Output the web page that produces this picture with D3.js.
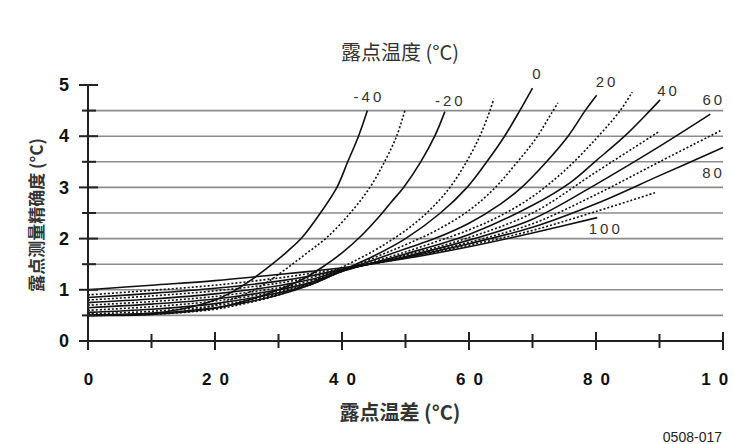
<!DOCTYPE html>
<html><head><meta charset="utf-8">
<script src="https://cdn.jsdelivr.net/npm/d3@7/dist/d3.min.js"></script>
<style>
body{margin:0;background:#fff}
text{font-family:"Liberation Sans",Arial,sans-serif}
.cjk{font-family:"Noto Sans CJK SC","Liberation Sans",sans-serif}
</style>
</head><body>
<svg id="c" width="733" height="444"></svg>
<script>
// ---- data ----
const xMajorTicks = [0, 20, 40, 60, 80, 100];
const xMinorTicks = [10, 30, 50, 70, 90];
const yMajorTicks = [0, 1, 2, 3, 4, 5];
const yMinorTicks = [0.5, 1.5, 2.5, 3.5, 4.5];
const gridLevels = [0.5, 1, 1.5, 2, 2.5, 3, 3.5, 4, 4.5];
const dewPoints = [-40, -30, -20, -10, 0, 10, 20, 30, 40, 50, 60, 70, 80, 90, 100];
const labeledDewPoints = [-40, -20, 0, 20, 40, 60, 80, 100];

const curveM40 = [[0,.5],[10,.54],[15,.63],[20,.8],[23,.98],[26,1.22],[29,1.5],[31.5,1.76],[33.7,2.02],[36.6,2.5],[39.2,3],[40.9,3.5],[42.6,4],[44,4.5]];
const curveM30 = [[0,.5],[10,.53],[15,.58],[20,.7],[25,.93],[28,1.13],[31.3,1.42],[34.5,1.72],[37.6,2.02],[41.3,2.5],[44.4,3],[46.7,3.5],[48.6,4],[49.9,4.5]];
const curveM20 = [[0,.5],[10,.52],[20,.64],[25,.79],[30,1],[34,1.22],[37,1.45],[40,1.72],[43,2.05],[46,2.45],[47.8,2.72],[49.7,3],[52.4,3.5],[54.6,4],[56.2,4.48]];
const curveM10 = [[0,.5],[10,.52],[20,.62],[25,.74],[30,.9],[35,1.14],[40,1.44],[45,1.76],[48,1.99],[51,2.25],[54,2.58],[57,3],[59.6,3.5],[61.7,4],[63.3,4.5],[63.9,4.73]];
const curveP0   = [[0,.51],[10,.54],[20,.65],[30,.9],[35,1.1],[40,1.38],[45,1.66],[50,2],[55.5,2.5],[59.7,3],[62.8,3.5],[65.6,4],[68,4.5],[70,4.94]];
const curveP10  = [[0,.53],[10,.58],[20,.69],[30,.92],[35,1.1],[40,1.37],[50,1.88],[55,2.17],[60,2.55],[64,2.98],[67.3,3.45],[70.5,3.95],[73,4.45],[74,4.65]];
const curveP20  = [[0,.56],[10,.62],[20,.73],[30,.94],[35,1.1],[40,1.36],[50,1.8],[55,2.02],[60,2.3],[65,2.68],[68.3,3],[72.2,3.5],[75.6,4],[78.3,4.5],[80.1,4.8]];
const curveP30  = [[0,.6],[10,.67],[20,.78],[30,.97],[35,1.12],[40,1.36],[50,1.74],[60,2.17],[65,2.45],[70,2.82],[75,3.32],[80,3.95],[83.8,4.5],[85.7,4.86]];
const curveP40  = [[0,.65],[10,.72],[20,.82],[30,1],[35,1.14],[40,1.36],[50,1.7],[60,2.08],[70,2.65],[76,3.1],[80,3.52],[84.5,4],[88.5,4.5],[90.1,4.71]];
const curveP50  = [[0,.7],[10,.77],[20,.87],[30,1.04],[35,1.17],[40,1.37],[50,1.67],[60,2.02],[70,2.5],[80,3.3],[89.8,4.08]];
const curveP60  = [[0,.75],[10,.82],[20,.92],[30,1.08],[35,1.2],[40,1.38],[50,1.65],[60,1.97],[70,2.38],[80,3.06],[90,3.8],[98,4.43]];
const curveP70  = [[0,.8],[10,.88],[20,.98],[30,1.13],[35,1.24],[40,1.39],[50,1.64],[60,1.93],[70,2.29],[80,2.86],[90,3.5],[99.8,4.12]];
const curveP80  = [[0,.85],[10,.93],[20,1.03],[30,1.17],[35,1.27],[40,1.4],[50,1.63],[60,1.9],[70,2.22],[80,2.68],[90,3.23],[100,3.78]];
const curveP90  = [[0,.9],[10,.99],[20,1.09],[30,1.23],[35,1.32],[40,1.41],[50,1.62],[60,1.87],[70,2.16],[80,2.53],[89.4,2.9]];
const curveP100 = [[0,1],[10,1.09],[20,1.18],[30,1.3],[35,1.36],[40,1.43],[50,1.61],[60,1.84],[70,2.11],[80.2,2.41]];

const seriesPoints = [curveM40, curveM30, curveM20, curveM10, curveP0, curveP10, curveP20,
  curveP30, curveP40, curveP50, curveP60, curveP70, curveP80, curveP90, curveP100];

// ---- layout / style ----
const svg = d3.select("#c");
svg.append("rect").attr("width",733).attr("height",444).attr("fill","#fff");
const x = d3.scaleLinear().domain([0,100]).range([88,723]);
const y = d3.scaleLinear().domain([0,5]).range([341,85]);

// grid
svg.append("g").selectAll("line").data(gridLevels).join("line")
  .attr("x1",x(0)).attr("x2",x(100))
  .attr("y1",d=>y(d)).attr("y2",d=>y(d))
  .attr("stroke","#8c8c8c").attr("stroke-width",1.6);

// curves
const line = d3.line().x(d=>x(d[0])).y(d=>y(d[1])).curve(d3.curveCatmullRom.alpha(0.5));
const curves = dewPoints.map((td,i)=>({td, pts: seriesPoints[i], dotted: i%2===1}));
svg.append("g").selectAll("path").data(curves).join("path")
  .attr("d",d=>line(d.pts)).attr("fill","none")
  .attr("stroke","#111").attr("stroke-width",1.6)
  .attr("stroke-dasharray",d=>d.dotted?"2,2":null);

// axes
const yAxis = d3.axisLeft(y).tickValues(yMajorTicks).tickSize(0).tickPadding(19).tickFormat(d3.format("d"));
const gy = svg.append("g").attr("transform",`translate(${x(0)},0)`).call(yAxis);
gy.select(".domain").remove();
gy.selectAll("text").attr("font-size",18).attr("font-weight","bold").attr("fill","#111")
  .attr("font-family","'Liberation Sans',Arial,sans-serif");
svg.append("line").attr("x1",x(0)).attr("x2",x(0)).attr("y1",y(5)).attr("y2",y(0))
  .attr("stroke","#222").attr("stroke-width",2);
svg.append("g").selectAll("line").data(yMajorTicks).join("line")
  .attr("x1",x(0)-9).attr("x2",x(0)+10).attr("y1",d=>y(d)).attr("y2",d=>y(d))
  .attr("stroke","#222").attr("stroke-width",2);
svg.append("g").selectAll("line").data(yMinorTicks).join("line")
  .attr("x1",x(0)-6).attr("x2",x(0)+8).attr("y1",d=>y(d)).attr("y2",d=>y(d))
  .attr("stroke","#222").attr("stroke-width",2);

const xAxis = d3.axisBottom(x).tickValues(xMajorTicks).tickSize(0).tickPadding(32)
  .tickFormat(d=>String(d));
const gx = svg.append("g").attr("transform",`translate(0,${y(0)})`).call(xAxis);
gx.select(".domain").remove();
gx.selectAll("text").attr("font-size",17).attr("font-weight","bold").attr("fill","#111")
  .attr("font-family","'Liberation Sans',Arial,sans-serif")
  .style("letter-spacing","8px").attr("dx","4px");
svg.append("line").attr("x1",x(0)).attr("x2",x(100)).attr("y1",y(0)).attr("y2",y(0))
  .attr("stroke","#222").attr("stroke-width",2.2);
svg.append("g").selectAll("line").data(xMajorTicks).join("line")
  .attr("x1",d=>x(d)).attr("x2",d=>x(d)).attr("y1",y(0)-9).attr("y2",y(0)+9)
  .attr("stroke","#222").attr("stroke-width",2);
svg.append("g").selectAll("line").data(xMinorTicks).join("line")
  .attr("x1",d=>x(d)).attr("x2",d=>x(d)).attr("y1",y(0)-7).attr("y2",y(0)+7)
  .attr("stroke","#222").attr("stroke-width",2);

// curve labels (offsets in px from each curve's end point)
const labelOffset = {"-40":[0,-9],"-20":[4,-6],"0":[4,-9],"20":[9,-8],"40":[7,-4],"60":[2,-9],"80":[-11,31],"100":[7,16]};
svg.append("g").selectAll("text").data(curves.filter(c=>labeledDewPoints.includes(c.td))).join("text")
  .attr("x",d=>x(d.pts[d.pts.length-1][0])+labelOffset[d.td][0]+1.5)
  .attr("y",d=>y(d.pts[d.pts.length-1][1])+labelOffset[d.td][1])
  .attr("text-anchor","middle").attr("font-size",15).attr("fill","#333")
  .style("letter-spacing","3px").text(d=>String(d.td));

// titles
svg.append("text").attr("class","cjk").attr("x",400).attr("y",60).attr("text-anchor","middle")
  .attr("font-size",20).attr("fill","#333").text("露点温度 (°C)");
svg.append("text").attr("class","cjk").attr("x",400).attr("y",420).attr("text-anchor","middle")
  .attr("font-size",20).attr("fill","#333").attr("font-weight","bold").text("露点温差  (°C)");
svg.append("text").attr("class","cjk").attr("transform","translate(43,215) rotate(-90)")
  .attr("text-anchor","middle").attr("font-size",17).attr("font-weight","bold").attr("fill","#333")
  .text("露点测量精确度 (°C)");
svg.append("text").attr("x",722).attr("y",442).attr("text-anchor","end")
  .attr("font-size",14).attr("fill","#222").text("0508-017");
</script>
</body></html>
